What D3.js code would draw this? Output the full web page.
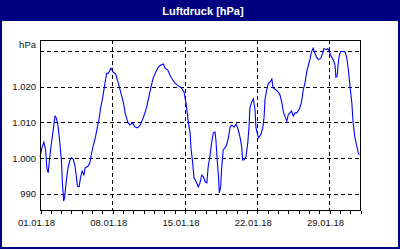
<!DOCTYPE html>
<html>
<head>
<meta charset="utf-8">
<script src="https://cdn.jsdelivr.net/npm/d3@7"></script>
<style>
  html, body { margin: 0; padding: 0; background: #fff; }
  svg { display: block; }
  .axis text { font-family: "Liberation Sans", Arial, sans-serif; font-size: 9.5px; fill: #111; }
</style>
</head>
<body>
<svg id="chart" width="400" height="250"></svg>
<script>
// chart text
const title = 'Luftdruck [hPa]';
const unitLabel = 'hPa';

// time range (UTC), January 2018
const startDate = '2018-01-01T00:00:00Z';
const endDate = '2018-02-01T00:00:00Z';

// hours since start of range and air pressure readings (hPa)
const hours = [
  0, 5, 9, 13, 16, 19, 22, 26, 30, 35, 38, 42, 46, 50, 52, 55, 57, 61, 65, 69,
  73, 77, 81, 84, 87, 91, 94, 98, 102, 105, 112, 116, 119, 123, 129, 133, 137, 141, 146, 151,
  155, 159, 165, 170, 176, 182, 188, 194, 198, 204, 209, 215, 221, 227, 233, 240, 248, 253, 258, 263,
  269, 275, 281, 287, 291, 297, 302, 306, 314, 322, 329, 335, 339, 341, 345, 349, 351, 355, 358, 363,
  368, 372, 376, 380, 384, 388, 391, 395, 399, 403, 407, 409, 412, 415, 417, 420, 422, 426, 430, 434,
  438, 442, 446, 451, 456, 461, 465, 469, 471, 474, 479, 483, 486, 488, 492, 496, 500, 502, 505, 508,
  513, 518, 521, 523, 527, 531, 535, 539, 542, 549, 554, 558, 562, 566, 570, 574, 577, 581, 585, 589,
  593, 597, 603, 606, 608, 612, 616, 620, 624, 628, 631, 635, 639, 643, 647, 653, 657, 660, 665, 669,
  673, 678, 682, 686, 688, 691, 693, 696, 699, 704, 709, 713, 717, 721, 725, 728, 732, 736, 740, 742
];
const pressure = [
  1000.4, 1003.1, 1004.5, 1002.3, 997.3, 995.9, 999.5, 1003.7, 1007.3, 1011.8, 1011.3, 1009.0, 1004.5, 999.0, 993.1, 988.0, 988.9, 993.4, 997.3, 999.2,
  1000.1, 999.8, 998.1, 995.3, 992.2, 992.0, 994.5, 996.4, 995.3, 997.3, 997.8, 998.7, 1000.9, 1003.1, 1005.9, 1008.5, 1010.7, 1014.1, 1017.1, 1021.0,
  1023.8, 1023.8, 1025.2, 1024.1, 1023.6, 1021.0, 1018.3, 1015.5, 1012.7, 1010.1, 1009.3, 1009.9, 1008.7, 1008.5, 1009.3, 1011.3, 1014.3, 1017.1, 1019.9, 1022.4,
  1024.1, 1025.5, 1026.1, 1026.4, 1025.2, 1024.7, 1023.3, 1022.4, 1021.0, 1020.2, 1019.7, 1018.5, 1015.7, 1014.1, 1009.9, 1007.1, 1002.9, 998.7, 994.5, 993.4,
  992.0, 993.1, 995.3, 994.8, 993.4, 993.1, 997.6, 1000.4, 1004.3, 1007.1, 1007.3, 1005.1, 999.5, 994.8, 990.3, 992.0, 996.7, 1002.3, 1002.9, 1003.7,
  1005.7, 1008.7, 1009.3, 1008.7, 1009.6, 1007.9, 1005.9, 1003.1, 999.5, 999.5, 1000.4, 1004.3, 1008.7, 1014.1, 1015.7, 1016.6, 1013.5, 1008.7, 1007.1, 1005.7,
  1006.5, 1008.5, 1011.5, 1016.3, 1019.1, 1021.0, 1021.3, 1022.2, 1019.7, 1019.1, 1018.5, 1017.7, 1015.7, 1012.9, 1011.5, 1010.4, 1012.1, 1012.7, 1013.2, 1011.8,
  1012.7, 1012.7, 1013.8, 1014.9, 1015.7, 1019.1, 1021.0, 1024.1, 1026.1, 1027.8, 1029.7, 1030.8, 1029.4, 1028.3, 1027.6, 1028.0, 1029.4, 1030.7, 1030.4, 1030.7,
  1029.7, 1028.3, 1027.5, 1026.1, 1022.7, 1023.0, 1026.1, 1028.9, 1029.9, 1029.9, 1029.8, 1028.3, 1024.7, 1019.9, 1015.5, 1009.9, 1005.9, 1003.7, 1001.5, 1000.9
];

// axis settings
const yDomain = [985.5, 1033.1];
const yTickValues = [990, 1000, 1010, 1020];
const yGridValues = [990, 1000, 1010, 1020, 1030];
const xLabelDates = ['2018-01-01', '2018-01-08', '2018-01-15', '2018-01-22', '2018-01-29'];

const svg = d3.select('#chart');
const width = +svg.attr('width');
const height = +svg.attr('height');

const plotLeft = 40;
const plotRight = 360;
const plotTop = 40;
const plotBottom = 210;

const navy = '#000080';

// frame and title bar
svg.append('rect')
  .attr('x', 1).attr('y', 1)
  .attr('width', width - 2).attr('height', height - 3)
  .attr('fill', '#fff')
  .attr('stroke', navy)
  .attr('stroke-width', 2);

svg.append('rect')
  .attr('x', 0).attr('y', 0)
  .attr('width', width).attr('height', 21)
  .attr('fill', navy);

svg.append('text')
  .attr('x', 203)
  .attr('y', 14.5)
  .attr('text-anchor', 'middle')
  .attr('fill', '#fff')
  .style('font-family', '"Liberation Sans", Arial, sans-serif')
  .style('font-weight', 'bold')
  .style('font-size', '11px')
  .text(title);

const parseUtc = d3.utcParse('%Y-%m-%dT%H:%M:%SZ');
const start = parseUtc(startDate);
const end = parseUtc(endDate);

const data = hours.map((h, i) => ({ date: d3.utcHour.offset(start, h), value: pressure[i] }));

const x = d3.scaleUtc().domain([start, end]).range([plotLeft, plotRight]);
const y = d3.scaleLinear().domain(yDomain).range([plotBottom, plotTop]);

const de = d3.formatLocale({ decimal: ',', thousands: '.', grouping: [3], currency: ['', ' €'] });
const yFormat = de.format(',.0f');

const g = svg.append('g');

// horizontal grid
g.selectAll('line.hgrid')
  .data(yGridValues)
  .enter()
  .append('line')
  .attr('class', 'hgrid')
  .attr('x1', plotLeft).attr('x2', plotRight)
  .attr('y1', (d) => Math.round(y(d)) + 0.5)
  .attr('y2', (d) => Math.round(y(d)) + 0.5)
  .attr('stroke', '#000')
  .attr('stroke-dasharray', '4,3')
  .attr('shape-rendering', 'crispEdges');

// vertical grid at label dates (not the first one, which is the axis)
const labelDates = xLabelDates.map((s) => d3.utcParse('%Y-%m-%d')(s));
g.selectAll('line.vgrid')
  .data(labelDates.slice(1))
  .enter()
  .append('line')
  .attr('class', 'vgrid')
  .attr('x1', (d) => Math.round(x(d)) + 0.5)
  .attr('x2', (d) => Math.round(x(d)) + 0.5)
  .attr('y1', plotTop).attr('y2', plotBottom)
  .attr('stroke', '#000')
  .attr('stroke-dasharray', '4,3')
  .attr('shape-rendering', 'crispEdges');

// the pressure line
const line = d3.line()
  .x((d) => x(d.date))
  .y((d) => y(d.value));

g.append('path')
  .datum(data)
  .attr('fill', 'none')
  .attr('stroke', '#0000ff')
  .attr('stroke-width', 1.1)
  .attr('d', line);

// plot frame
g.append('rect')
  .attr('x', plotLeft + 0.5).attr('y', plotTop + 0.5)
  .attr('width', plotRight - plotLeft).attr('height', plotBottom - plotTop)
  .attr('fill', 'none')
  .attr('stroke', '#000')
  .attr('shape-rendering', 'crispEdges');

// x axis: daily ticks, labels weekly
const xAxis = d3.axisBottom(x)
  .ticks(d3.utcDay.every(1))
  .tickSize(3)
  .tickFormat('');

g.append('g')
  .attr('class', 'axis')
  .attr('transform', `translate(0.5,${plotBottom + 0.5})`)
  .call(xAxis)
  .call((a) => a.select('.domain').remove())
  .call((a) => a.selectAll('line').attr('shape-rendering', 'crispEdges'));

g.append('g')
  .attr('class', 'axis')
  .selectAll('text')
  .data(labelDates)
  .enter()
  .append('text')
  .attr('x', (d) => x(d) - 3.5)
  .attr('y', 226)
  .attr('text-anchor', 'middle')
  .text((d) => d3.utcFormat('%d.%m.%y')(d));

// y axis labels only
const yAxis = d3.axisLeft(y)
  .tickValues(yTickValues)
  .tickSize(0)
  .tickPadding(4)
  .tickFormat(yFormat);

g.append('g')
  .attr('class', 'axis')
  .attr('transform', `translate(${plotLeft},0)`)
  .call(yAxis)
  .call((a) => a.select('.domain').remove());

g.append('text')
  .attr('x', plotLeft - 4)
  .attr('y', 48)
  .attr('text-anchor', 'end')
  .style('font-family', '"Liberation Sans", Arial, sans-serif')
  .style('font-size', '9.5px')
  .attr('fill', '#111')
  .text(unitLabel);
</script>
</body>
</html>
